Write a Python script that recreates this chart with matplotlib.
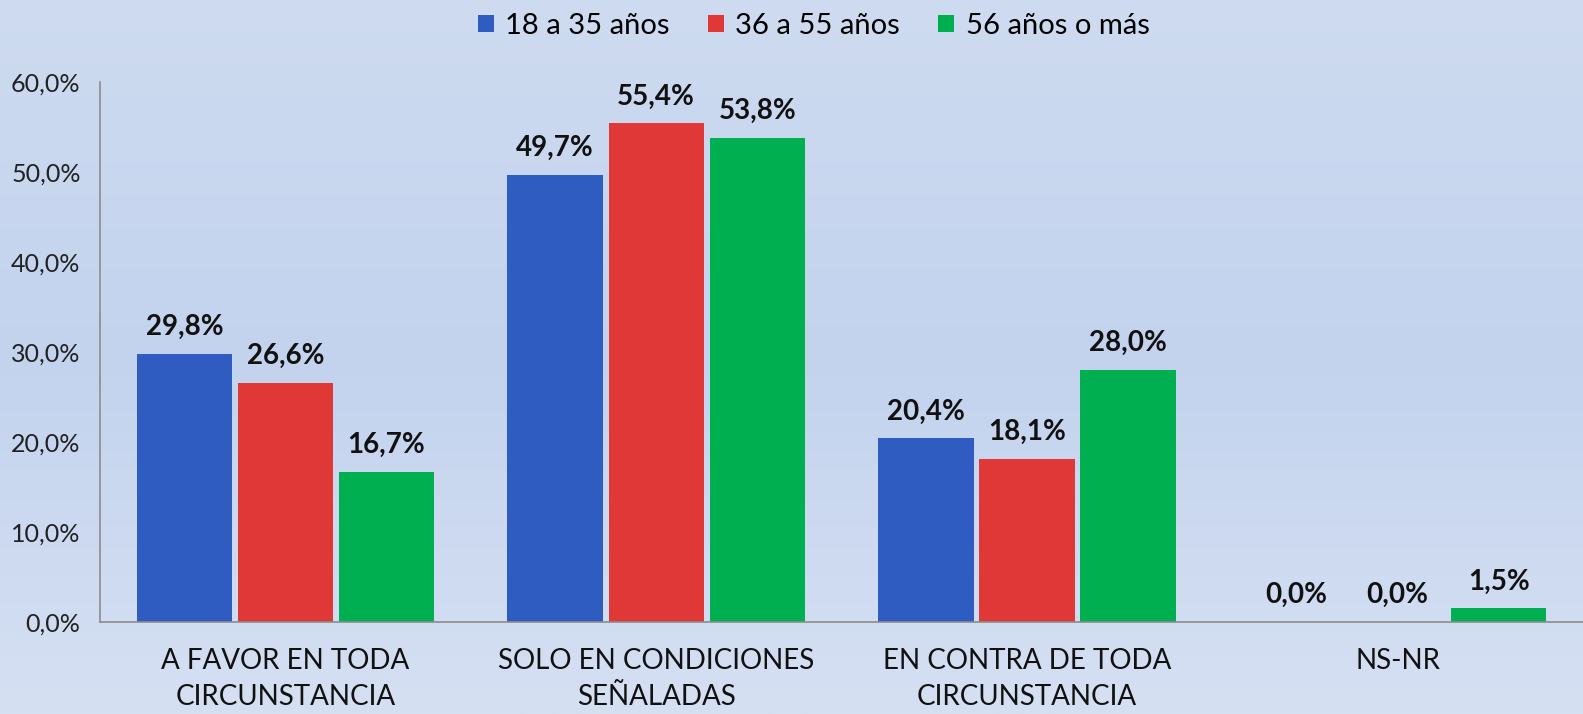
import matplotlib
matplotlib.use("Agg")
import matplotlib.pyplot as plt
import numpy as np
from matplotlib.colors import LinearSegmentedColormap

categories = ["A FAVOR EN TODA\nCIRCUNSTANCIA", "SOLO EN CONDICIONES\nSEÑALADAS",
              "EN CONTRA DE TODA\nCIRCUNSTANCIA", "NS-NR"]
series = ["18 a 35 años", "36 a 55 años", "56 años o más"]
v_18_35 = [29.8, 49.7, 20.4, 0.0]
v_36_55 = [26.6, 55.4, 18.1, 0.0]
v_56 = [16.7, 53.8, 28.0, 1.5]
yticks = [0, 10, 20, 30, 40, 50, 60]

COLORS = ["#2E5CC1", "#E03737", "#00B050"]
plt.rcParams["font.family"] = ["Lato", "DejaVu Sans"]

fig = plt.figure(figsize=(15.83, 7.14), dpi=100)

# background gradient
bg = fig.add_axes([0, 0, 1, 1], zorder=-10)
cmap = LinearSegmentedColormap.from_list("bg", ["#CEDBF0", "#C3D3EE", "#D6E0F3"])
bg.imshow(np.linspace(0, 1, 256).reshape(-1, 1), aspect="auto", cmap=cmap,
          extent=[0, 1, 0, 1])
bg.axis("off")

ax = fig.add_axes([0.0632, 0.1289, 0.9368, 0.7563])
ax.patch.set_alpha(0)

x = np.arange(len(categories))
w, step = 0.257, 0.2725
for i, (vals, name) in enumerate(zip([v_18_35, v_36_55, v_56], series)):
    bars = ax.bar(x + (i - 1) * step, vals, w, color=COLORS[i], label=name)
    for b, v in zip(bars, vals):
        ax.annotate(f"{v:.1f}%".replace(".", ","), (b.get_x() + b.get_width() / 2, v),
                    xytext=(0, 10), textcoords="offset points", ha="center", va="bottom",
                    fontsize=20, fontweight="bold", color="#111111")

ax.set_xlim(-0.5, 3.5)
ax.set_ylim(0, 60)
ax.set_yticks(yticks)
ax.set_yticklabels([f"{t:.1f}%".replace(".", ",") for t in yticks], fontsize=18, color="#222222")
ax.set_xticks(x)
ax.set_xticklabels(categories, fontsize=20, color="#111111", linespacing=1.45)
ax.tick_params(axis="y", length=0, pad=14)
ax.tick_params(axis="x", length=0, pad=19)
for s in ["top", "right"]:
    ax.spines[s].set_visible(False)
for s in ["left", "bottom"]:
    ax.spines[s].set_color("#8C8C8C")
    ax.spines[s].set_linewidth(1.2)

fig.legend(loc="center", bbox_to_anchor=(0.514, 0.964), ncol=3, frameon=False,
           fontsize=21, handlelength=0.55, handleheight=0.55, handletextpad=0.4,
           columnspacing=1.3)

fig.savefig("out.png", dpi=100)
